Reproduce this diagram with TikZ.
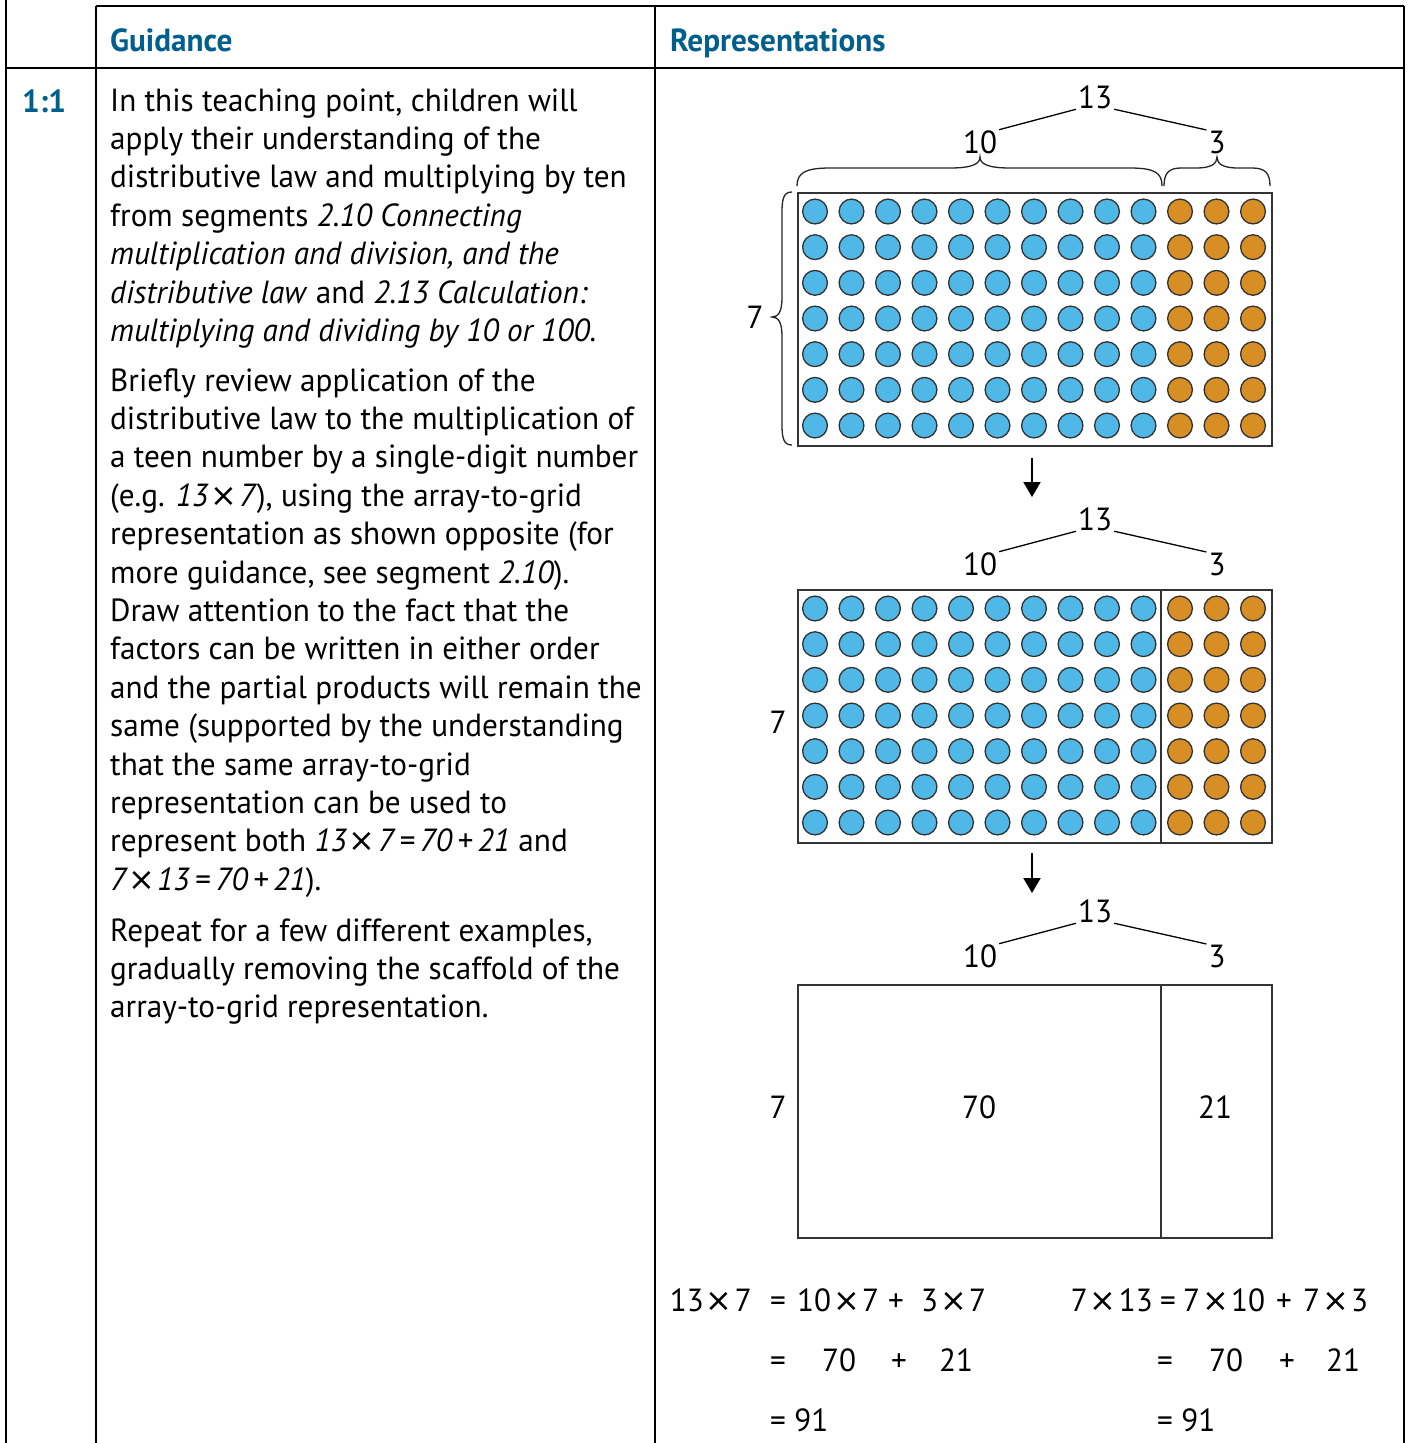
\documentclass[tikz,border=0pt]{standalone}
\usepackage{fontspec}
\setmainfont[FakeStretch=0.975]{PT Sans}
\newfontfamily\symfont{DejaVu Sans}
\usetikzlibrary{arrows.meta,calc}
\definecolor{hdr}{RGB}{0,95,140}
\definecolor{dotblue}{RGB}{80,184,231}
\definecolor{dotorange}{RGB}{214,142,37}
\definecolor{dotline}{RGB}{50,50,50}
\newcommand\bodyfont{\fontsize{32}{38}\selectfont}
\newcommand\mul{\kern2pt{\upshape\symfont ×}\kern2pt}
\begin{document}
\begin{tikzpicture}[x=1pt,y=-1pt,
  rule/.style={line width=2pt,black},
  body/.style={anchor=base west,inner sep=0pt,font=\bodyfont},
  head/.style={anchor=base west,inner sep=0pt,font=\bodyfont\bfseries,text=hdr},
  num/.style={inner sep=0pt,font=\bodyfont},
  eq/.style={anchor=base,inner sep=0pt,font=\bodyfont},
  gridbox/.style={draw=black!80,line width=1.6pt,inner sep=0pt,anchor=north west,minimum width=474pt,minimum height=253pt},
  bluedot/.style={fill=dotblue,draw=dotline,line width=1.3pt},
  orangedot/.style={fill=dotorange,draw=dotline,line width=1.3pt},
  bracestyle/.style={line width=1.3pt,black!85},
  split/.style={line width=1.3pt,black,shorten <=2pt,shorten >=2pt},
  down/.style={line width=2pt,-{Triangle[length=15pt,width=17pt]}}
]
\useasboundingbox (0,0) rectangle (1409,1443);
\fill[white] (0,0) rectangle (1409,1443);

% table rules
\draw[rule] (6,0) -- (6,1443);
\draw[rule] (96,6) -- (1404,6);
\draw[rule] (96,6) -- (96,1443);
\draw[rule] (655,6) -- (655,1443);
\draw[rule] (1404,6) -- (1404,1443);
\draw[rule] (6,68) -- (1404,68);

% headers
\node[head] (hg) at (110,51) {Guidance};
\node[head] (hr) at (670,51) {Representations};
\node[head] (hn) at (22,112) {1:1};

% guidance text
\begin{scope}[yshift=-3pt]
\node[body] (p1) at (110,108) {In this teaching point, children will};
\node[body] (p2) at (110,146.4) {apply their understanding of the};
\node[body] (p3) at (110,184.8) {distributive law and multiplying by ten};
\node[body] (p4) at (110,223.2) {from segments \textit{2.10 Connecting}};
\node[body] (p5) at (110,261.6) {\textit{multiplication and division, and the}};
\node[body] (p6) at (110,300) {\textit{distributive law} and \textit{2.13 Calculation:}};
\node[body] (p7) at (110,338.4) {\textit{multiplying and dividing by 10 or 100.}};

\node[body] (q1) at (110,388) {Briefly review application of the};
\node[body] (q2) at (110,426.4) {distributive law to the multiplication of};
\node[body] (q3) at (110,464.8) {a teen number by a single-digit number};
\node[body] (q4) at (110,503.2) {(e.g. \textit{13\mul 7}), using the array-to-grid};
\node[body] (q5) at (110,541.6) {representation as shown opposite (for};
\node[body] (q6) at (110,580) {more guidance, see segment \textit{2.10}).};
\node[body] (q7) at (110,618.4) {Draw attention to the fact that the};
\node[body] (q8) at (110,656.8) {factors can be written in either order};
\node[body] (q9) at (110,695.2) {and the partial products will remain the};
\node[body] (q10) at (110,733.6) {same (supported by the understanding};
\node[body] (q11) at (110,772) {that the same array-to-grid};
\node[body] (q12) at (110,810.4) {representation can be used to};
\node[body] (q13) at (110,848.8) {represent both \textit{13\mul 7\,=\,70\,+\,21} and};
\node[body] (q14) at (110,887.2) {\textit{7\mul 13\,=\,70\,+\,21}).};

\node[body] (r1) at (110,938) {Repeat for a few different examples,};
\node[body] (r2) at (110,976.4) {gradually removing the scaffold of the};
\node[body] (r3) at (110,1014.8) {array-to-grid representation.};
\end{scope}

% ---------- section 1 ----------
\node[num] (a13) at (1095,97) {13};
\node[num] (a10) at (980,142) {10};
\node[num] (a3) at (1217,142) {3};
\draw[split] (a10.north east) -- (a13.south west);
\draw[split] (a13.south east) -- (a3.north west);
\draw[bracestyle] (797,186) .. controls (797,173) and (805,168) .. (830,168) -- (950,168)
  .. controls (972,168) and (980,164) .. (980,157)
  .. controls (980,164) and (988,168) .. (1010,168) -- (1130,168)
  .. controls (1155,168) and (1162,173) .. (1162,186);
\draw[bracestyle] (1164,186) .. controls (1164,173) and (1169,168) .. (1181,168) -- (1196,168)
  .. controls (1211,168) and (1217,164) .. (1217,157)
  .. controls (1217,164) and (1223,168) .. (1238,168) -- (1252,168)
  .. controls (1265,168) and (1270,173) .. (1270,186);
\draw[bracestyle] (792,192) .. controls (784,192) and (782,198) .. (782,212) -- (782,298)
  .. controls (782,312) and (778,317) .. (772,317)
  .. controls (778,317) and (782,322) .. (782,336) -- (782,425)
  .. controls (782,439) and (784,445) .. (792,445);
\node[num] (a7) at (755,317) {7};
\node[gridbox] (g1) at (797,192) {};

% dots for sections 1 and 2
\foreach \yy in {211.5,608.5}{
  \foreach \r in {0,...,6}{
    \foreach \c in {0,...,9}
      \draw[bluedot] ({815+36.5*\c},{\yy+35.67*\r}) circle[radius=12.4];
    \foreach \c in {10,11,12}
      \draw[orangedot] ({815+36.5*\c},{\yy+35.67*\r}) circle[radius=12.4];
  }
}

\coordinate (d1a) at (1032,458);
\coordinate (d1b) at (1032,497);
\draw[down] (d1a) -- (d1b);

% ---------- section 2 ----------
\node[num] (b13) at (1095,519) {13};
\node[num] (b10) at (980,564) {10};
\node[num] (b3) at (1217,564) {3};
\draw[split] (b10.north east) -- (b13.south west);
\draw[split] (b13.south east) -- (b3.north west);
\node[gridbox] (g2) at (797,589) {};
\draw[draw=black!80,line width=1.6pt] (1161,589) -- (1161,842);
\node[num] (b7) at (778,722) {7};

\coordinate (d2a) at (1032,853);
\coordinate (d2b) at (1032,893);
\draw[down] (d2a) -- (d2b);

% ---------- section 3 ----------
\node[num] (c13) at (1095,911) {13};
\node[num] (c10) at (980,956) {10};
\node[num] (c3) at (1217,956) {3};
\draw[split] (c10.north east) -- (c13.south west);
\draw[split] (c13.south east) -- (c3.north west);
\node[gridbox] (g3) at (797,984) {};
\draw[draw=black!80,line width=1.6pt] (1161,984) -- (1161,1237);
\node[num] (c7) at (778,1107) {7};
\node[num] (c70) at (979,1107) {70};
\node[num] (c21) at (1215,1107) {21};

% ---------- equations ----------
\node[eq,anchor=base east] (e1a) at (752,1311) {13\mul 7};
\node[eq] (e1b) at (778,1311) {=};
\node[eq,anchor=base west] (e1c) at (797,1311) {10\mul 7};
\node[eq] (e1d) at (896,1311) {+};
\node[eq,anchor=base west] (e1e) at (921,1311) {3\mul 7};
\node[eq] (e2a) at (778,1371) {=};
\node[eq] (e2b) at (839,1371) {70};
\node[eq] (e2c) at (899,1371) {+};
\node[eq] (e2d) at (956,1371) {21};
\node[eq,anchor=base west] (e3a) at (770,1431) {= 91};

\node[eq,anchor=base east] (f1a) at (1153,1311) {7\mul 13};
\node[eq] (f1b) at (1168,1311) {=};
\node[eq,anchor=base west] (f1c) at (1183,1311) {7\mul 10};
\node[eq] (f1d) at (1284,1311) {+};
\node[eq,anchor=base west] (f1e) at (1303,1311) {7\mul 3};
\node[eq] (f2a) at (1165,1371) {=};
\node[eq] (f2b) at (1226,1371) {70};
\node[eq] (f2c) at (1287,1371) {+};
\node[eq] (f2d) at (1343,1371) {21};
\node[eq,anchor=base west] (f3a) at (1157,1431) {= 91};
\end{tikzpicture}
\end{document}
